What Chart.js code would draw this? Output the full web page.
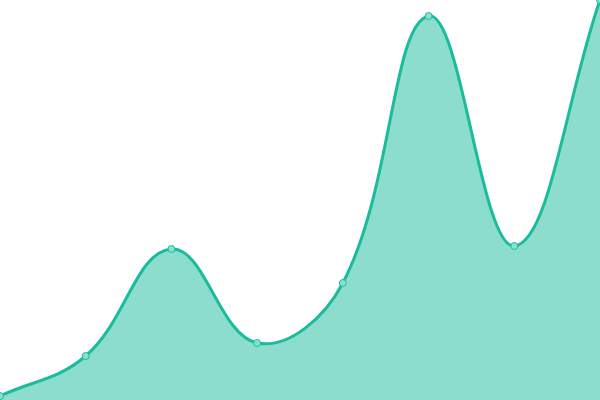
<!DOCTYPE html>
<html><head><meta charset="utf-8">
<script src="https://cdn.jsdelivr.net/npm/chart.js@4"></script>
<style>html,body{margin:0;padding:0;background:#fff}#wrap{width:600px;height:400px}</style>
</head><body><div id="wrap"><canvas id="c"></canvas></div>
<script>
const labels = ["1","2","3","4","5","6","7","8"];
const values = [1, 11, 37.75, 14.25, 29.25, 96, 38.5, 100];
new Chart(document.getElementById('c'), {
  type: 'line',
  data: { labels: labels, datasets: [{
    data: values,
    fill: true,
    backgroundColor: 'rgba(26,188,156,0.5)',
    borderColor: '#1abc9c',
    borderWidth: 3,
    tension: 0.4,
    pointRadius: 3.5,
    pointBackgroundColor: '#8ae0cf',
    pointBorderColor: '#1abc9c',
    pointBorderWidth: 1,
    clip: false
  }]},
  options: {
    responsive: true, maintainAspectRatio: false, animation: false,
    layout: { padding: 0, autoPadding: false },
    plugins: { legend: { display: false }, tooltip: { enabled: false } },
    scales: {
      x: { display: false, offset: false },
      y: { display: false, min: 0, max: 100 }
    }
  }
});
</script></body></html>
